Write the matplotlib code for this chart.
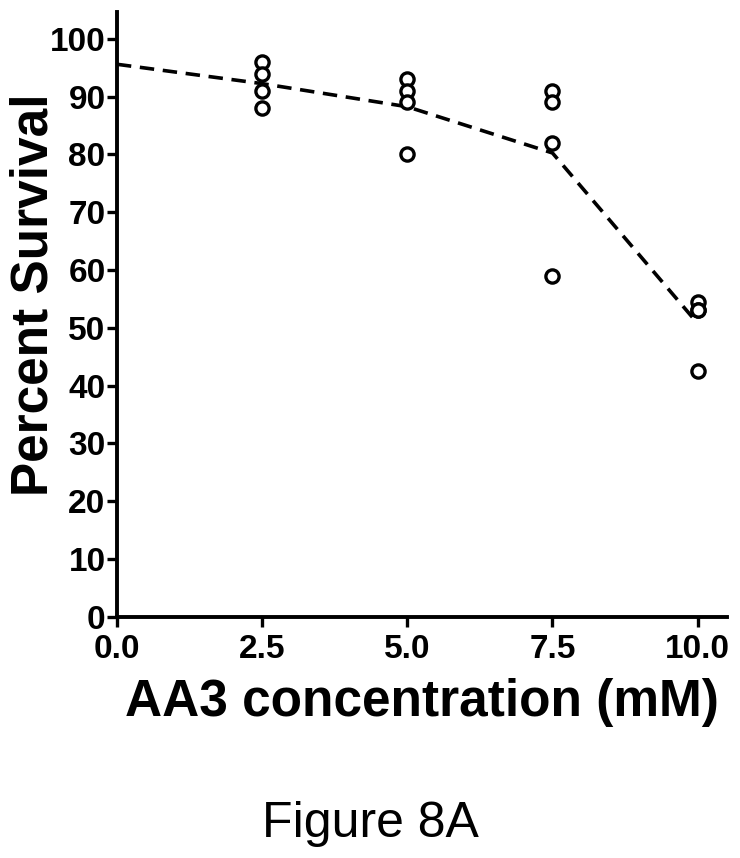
import matplotlib.pyplot as plt
import numpy as np

# AA3 concentration (mM) and individual survival values (%)
conc = [2.5, 5.0, 7.5, 10.0]
survival = [
    [96, 94, 91, 88],
    [93, 91, 89, 80],
    [91, 89, 82, 59],
    [54.5, 53, 53, 42.5],
]
control_mean = 95.6  # value of the fitted line at 0 mM

x_ticks = [0.0, 2.5, 5.0, 7.5, 10.0]
y_ticks = list(range(0, 101, 10))

plt.rcParams["font.family"] = ["Liberation Sans", "DejaVu Sans"]

fig = plt.figure(figsize=(7.4, 8.58), dpi=100)
ax = fig.add_axes([0.158, 0.2812, 0.824, 0.7052])

# mean line
line_x = [0.0] + conc
line_y = [control_mean] + [np.mean(v) for v in survival]
ln, = ax.plot(line_x, line_y, color="black", lw=2.6, zorder=2)
ln.set_dashes([4.0, 2.4])

# individual points
for c, vals in zip(conc, survival):
    ax.plot([c] * len(vals), vals, linestyle="none", marker="o", markersize=9.5,
            markerfacecolor="white", markeredgecolor="black", markeredgewidth=2.4,
            zorder=3, clip_on=False)

ax.set_xlim(0, 10.5)
ax.set_ylim(0, 104.7)
ax.set_xticks(x_ticks)
ax.set_xticklabels(["%.1f" % t for t in x_ticks])
ax.set_yticks(y_ticks)

for side in ["top", "right"]:
    ax.spines[side].set_visible(False)
for side in ["left", "bottom"]:
    ax.spines[side].set_linewidth(2.8)

ax.tick_params(axis="both", width=2.4, length=7, labelsize=24)
ax.tick_params(axis="x", pad=5.5)
ax.tick_params(axis="y", pad=1.2)
for lab in ax.get_xticklabels() + ax.get_yticklabels():
    lab.set_fontweight("bold")

# axis titles placed on the figure
fig.text(0.5696, 0.1655, "AA3 concentration (mM)", fontsize=37, fontweight="bold",
         ha="center", va="baseline")
fig.text(0.0135, 0.656, "Percent Survival", fontsize=37, fontweight="bold",
         rotation=90, ha="left", va="center")

fig.text(0.5, 0.0248, "Figure 8A", fontsize=36, ha="center", va="baseline")

fig.savefig("out.png", dpi=100)
